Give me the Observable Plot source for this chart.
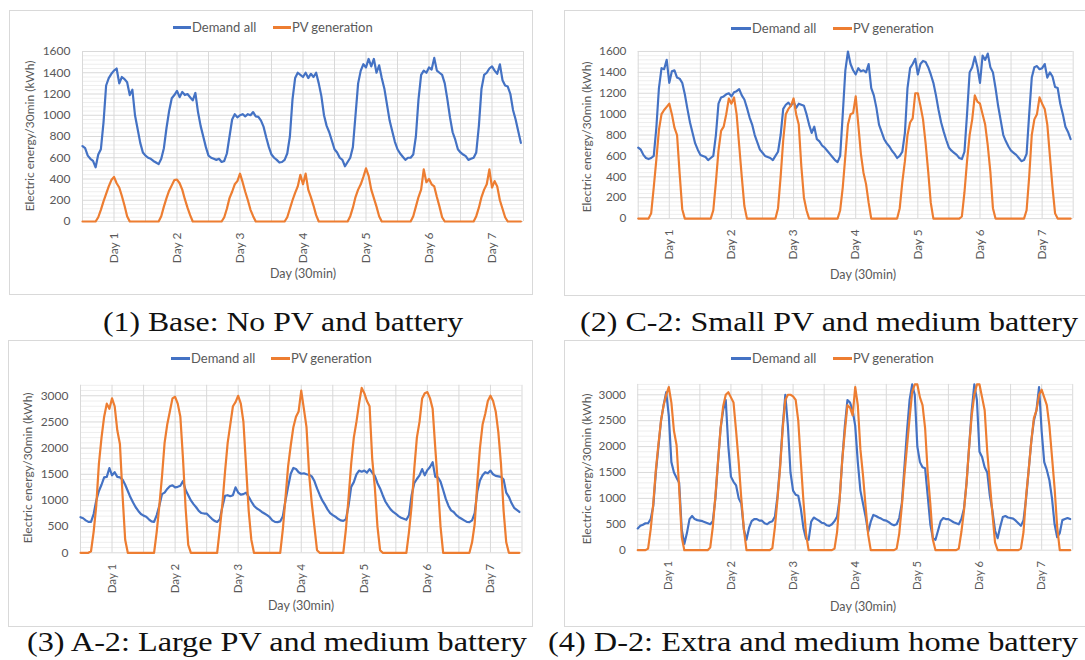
<!DOCTYPE html>
<html><head><meta charset="utf-8">
<script src="https://cdn.jsdelivr.net/npm/d3@7"></script>
<script src="https://cdn.jsdelivr.net/npm/@observablehq/plot@0.6"></script>
<style>
html,body{margin:0;padding:0;background:#fff;}
#root{position:relative;width:1085px;height:660px;overflow:hidden;background:#fff;font-family:Lato,"Open Sans",sans-serif;color:#595959;}
.box{position:absolute;border:1px solid #d9d9d9;box-sizing:border-box;background:#fff;}
.plotwrap{position:absolute;}
.lg{position:absolute;font-size:13px;white-space:nowrap;line-height:1;transform:translateY(-50%);}
.sw{position:absolute;height:2.5px;}
.t{position:absolute;white-space:nowrap;line-height:1;}
</style></head><body><div id="root"></div>
<script>
// ---------- shared axis values ----------
const dayLabels = ["Day 1","Day 2","Day 3","Day 4","Day 5","Day 6","Day 7"];
const dayTicks = [24, 72, 120, 168, 216, 264, 312];           // half-hour index at noon of each day
const gridHalfDays = [0,24,48,72,96,120,144,168,192,216,240,264,288,312,336];
const seriesNames = ["Demand all", "PV generation"];
const yTitle = "Electric energy/30min (kWh)";
const xTitle = "Day (30min)";
const captions = ["(1) Base: No PV and battery", "(2) C-2: Small PV and medium battery",
                  "(3) A-2: Large PV and medium battery", "(4) D-2: Extra and medium home battery"];

// ---------- hourly values (kWh per 30 min) ----------
// (1) Base
const baseDemand = [
 710,690,620,590,570,510,630,680,930,1280,1350,1390,1420,1440,1300,1360,1340,1310,1190,1240,1000,870,740,650,
 620,600,590,570,555,540,590,690,880,1040,1160,1190,1230,1170,1220,1190,1200,1170,1140,1210,1030,900,800,700,
 620,600,590,580,590,560,570,640,800,960,1010,980,1000,1010,990,1010,1000,1030,990,985,950,890,790,700,
 630,600,580,555,560,580,640,800,1150,1350,1400,1380,1360,1400,1350,1390,1360,1400,1300,1180,1000,900,840,760,
 680,650,600,580,520,560,600,700,1000,1300,1420,1480,1450,1530,1460,1530,1400,1470,1350,1250,1100,950,850,750,
 680,640,610,580,600,600,630,800,1150,1380,1420,1400,1450,1430,1540,1420,1400,1380,1300,1150,980,840,770,680,
 650,630,615,580,590,600,650,900,1250,1380,1400,1440,1460,1420,1390,1480,1330,1280,1270,1200,1050,960,850,740
];
const basePV = [
 0,0,0,0,0,0,40,110,190,260,330,390,420,360,320,240,150,50,0,0,0,0,0,0,
 0,0,0,0,0,0,50,140,220,290,340,390,395,360,300,210,130,60,0,0,0,0,0,0,
 0,0,0,0,0,0,40,120,220,280,350,380,450,370,280,200,110,50,0,0,0,0,0,0,
 0,0,0,0,0,0,40,120,200,270,330,440,350,450,300,230,150,60,0,0,0,0,0,0,
 0,0,0,0,0,0,50,130,230,300,350,420,500,430,300,220,140,50,0,0,0,0,0,0,
 0,0,0,0,0,0,50,140,230,300,490,370,400,350,330,230,140,40,0,0,0,0,0,0,
 0,0,0,0,0,0,50,130,230,300,350,490,320,380,330,200,120,40,0,0,0,0,0,0
];
// (2) C-2
const c2Demand = [
 680,660,610,580,570,580,600,870,1250,1440,1430,1520,1300,1410,1420,1350,1340,1300,1190,1050,920,820,720,660,
 610,600,590,560,580,600,800,1100,1160,1170,1190,1200,1170,1210,1220,1240,1180,1140,1060,970,900,800,730,660,
 630,600,590,580,560,600,640,800,1050,1090,1110,1080,1120,1060,1100,1090,1080,1000,900,820,880,760,740,700,
 680,650,620,590,560,540,600,1000,1420,1600,1480,1420,1380,1440,1410,1420,1400,1480,1250,1180,1060,900,830,760,
 720,690,650,620,580,600,640,820,1250,1440,1480,1530,1380,1480,1510,1500,1450,1380,1300,1180,1040,920,830,750,
 680,650,630,610,580,570,640,1000,1400,1450,1550,1450,1300,1560,1520,1580,1450,1400,1250,1080,940,800,740,690,
 650,630,610,580,550,560,620,1000,1350,1450,1460,1430,1440,1480,1350,1400,1360,1260,1250,1100,1000,880,830,760
];
const c2PV = [
 0,0,0,0,0,50,300,565,850,1000,1040,1070,1100,1000,870,800,430,90,0,0,0,0,0,0,
 0,0,0,0,0,80,350,650,840,880,1000,1150,1100,1160,1000,700,400,120,0,0,0,0,0,0,
 0,0,0,0,0,0,100,400,750,1000,1050,1080,1150,1000,900,500,200,80,0,0,0,0,0,0,
 0,0,0,0,0,0,80,300,600,900,1000,1010,1170,900,620,440,330,150,0,0,0,0,0,0,
 0,0,0,0,0,100,350,550,800,920,960,1200,1200,1080,950,720,450,150,0,0,0,0,0,0,
 0,0,0,0,0,20,250,550,800,950,1180,1120,1100,1000,900,700,450,100,0,0,0,0,0,0,
 0,0,0,0,0,0,80,400,800,950,1000,1160,1100,1050,900,600,300,50,0,0,0,0,0,0
];
// (3) A-2
const a2Demand = [
 680,660,620,590,590,740,1000,1180,1300,1440,1450,1620,1480,1540,1450,1440,1400,1300,1180,1060,960,870,800,740,
 710,690,640,600,590,720,900,1120,1150,1220,1270,1290,1250,1260,1280,1370,1200,1100,1000,930,870,800,760,750,
 750,700,650,610,590,640,880,1090,1100,1080,1100,1250,1150,1110,1120,1150,1070,980,900,850,820,780,750,720,
 680,620,590,586,600,700,1000,1260,1510,1620,1600,1540,1510,1520,1500,1490,1460,1370,1230,1110,1000,920,830,760,
 720,690,650,620,610,640,900,1260,1350,1500,1570,1550,1570,1530,1600,1530,1470,1330,1230,1100,980,900,830,780,
 745,700,670,650,630,720,1100,1330,1410,1480,1600,1480,1580,1640,1730,1450,1440,1360,1200,1030,900,810,780,720,
 680,650,620,590,586,620,760,1170,1380,1480,1540,1520,1570,1500,1470,1460,1450,1400,1150,1070,950,860,820,780
];
const a2PV = [
 0,0,0,0,30,400,900,1700,2200,2600,2850,2750,2950,2800,2340,2080,1100,250,0,0,0,0,0,0,
 0,0,0,0,0,400,900,1450,2100,2450,2700,2950,2980,2850,2600,1800,850,150,0,0,0,0,0,0,
 0,0,0,0,0,450,940,1550,2100,2450,2800,2880,3000,2850,2500,1650,800,250,0,0,0,0,0,0,
 0,0,0,0,0,450,1050,1650,2050,2400,2600,2700,3100,2750,2400,1500,950,500,50,0,0,0,0,0,
 0,0,0,0,0,450,1050,1700,2200,2500,2850,3150,3050,2900,2800,1800,1250,500,50,0,0,0,0,0,
 0,0,0,0,0,400,900,1600,2200,2500,2950,3050,3070,2950,2750,2000,1300,500,0,0,0,0,0,0,
 0,0,0,0,0,200,550,1350,2000,2450,2650,2900,3000,2900,2700,2300,1700,800,200,0,0,0,0,0
];
// (4) D-2
const d2Demand = [
 420,470,490,520,520,600,850,1500,2000,2500,2800,3050,2600,1700,1500,1400,1300,400,120,330,600,660,600,580,
 570,560,540,520,500,560,1000,1700,2350,2700,2900,2000,1420,1320,1250,1000,900,400,200,430,560,600,600,570,
 570,520,500,540,560,650,1050,1650,2400,3000,2400,1500,1150,1070,1050,800,430,220,200,550,630,600,570,530,
 520,480,470,500,560,650,1000,1750,2400,2900,2850,2700,2400,1700,1150,900,650,350,550,680,660,630,610,580,
 570,540,500,480,500,620,900,1600,2300,2900,3200,3000,2000,1700,1600,1580,1050,500,230,200,380,560,620,600,
 600,570,540,520,500,600,800,1300,2000,2700,3200,2900,1900,1800,1600,1500,1050,760,380,230,450,640,660,630,
 620,610,570,520,470,580,1000,1550,2100,2500,2700,3150,2300,1700,1550,1350,1000,500,250,330,580,600,620,600
];
const d2PV = [
 0,0,0,0,30,400,900,1550,2050,2500,2800,3000,3150,2850,2300,2030,1200,250,0,0,0,0,0,0,
 0,0,0,0,50,450,1050,1700,2350,2780,3000,3050,2950,2850,2300,1700,1000,400,0,0,0,0,0,0,
 0,0,0,0,40,450,1000,1600,2350,2900,3000,3000,2970,2900,2500,1700,950,320,0,0,0,0,0,0,
 0,0,0,0,30,350,1000,1750,2300,2800,2750,2600,3150,2800,1950,1450,850,300,0,0,0,0,0,0,
 0,0,0,0,30,320,850,1450,2000,2550,3050,3200,3200,2950,2800,2350,1500,900,200,0,0,0,0,0,
 0,0,0,0,30,350,760,1300,2000,2600,3000,3200,3200,2950,2700,1900,1300,700,150,0,0,0,0,0,
 0,0,0,0,30,350,1050,1550,2100,2550,2700,3000,3100,2950,2800,2400,1800,1200,450,0,0,0,0,0
];

// ---------- layout (page pixels) ----------
const panels = [
  {demand: baseDemand, pv: basePV, ymax: 1600, major: 200, minor: 40, cap: captions[0],
   box: {l: 9, t: 10, w: 524, h: 285}, plot: {x0: 82, x1: 523, y0: 51, y1: 221},
   lg: {y: 27, s1: 173, t1: 192, s2: 273, t2: 292}, xt: {x: 303, y: 274}, yt: {x: 30, y: 136},
   capPos: {x: 283, y: 331, w: 360}, tickFont: 12, dayFont: 12},
  {demand: c2Demand, pv: c2PV, ymax: 1600, major: 200, minor: 40, cap: captions[1],
   box: {l: 564, t: 10, w: 530, h: 286}, plot: {x0: 639, x1: 1081.5, y0: 51.7, y1: 221.7},
   lg: {y: 28, s1: 731, t1: 752, s2: 833, t2: 853}, xt: {x: 863, y: 275}, yt: {x: 587, y: 137},
   capPos: {x: 829, y: 331, w: 498}, tickFont: 12, dayFont: 12},
  {demand: a2Demand, pv: a2PV, ymax: 3200, major: 500, minor: 100, cap: captions[2],
   box: {l: 8, t: 340, w: 525, h: 287}, plot: {x0: 80, x1: 521.5, y0: 384.8, y1: 552.3},
   lg: {y: 358, s1: 171, t1: 191, s2: 271, t2: 291}, xt: {x: 301, y: 606}, yt: {x: 28, y: 468},
   capPos: {x: 277, y: 651, w: 500}, tickFont: 12, dayFont: 11.5},
  {demand: d2Demand, pv: d2PV, ymax: 3200, major: 500, minor: 100, cap: captions[3],
   box: {l: 564, t: 340, w: 530, h: 287}, plot: {x0: 638.5, x1: 1081, y0: 384.7, y1: 553.3},
   lg: {y: 358, s1: 731, t1: 752, s2: 833, t2: 853}, xt: {x: 863, y: 607}, yt: {x: 587, y: 469},
   capPos: {x: 813, y: 651, w: 530}, tickFont: 12, dayFont: 11.5}
];
const colors = ["#4472C4", "#ED7D31"];

const root = document.getElementById("root");
function el(tag, cls, css, text) {
  const e = document.createElement(tag);
  if (cls) e.className = cls;
  Object.assign(e.style, css || {});
  if (text != null) e.textContent = text;
  root.appendChild(e);
  return e;
}

for (const p of panels) {
  el("div", "box", {left: p.box.l + "px", top: p.box.t + "px", width: p.box.w + "px", height: p.box.h + "px"});
  const mL = p.plot.x0 - p.box.l, mR = p.box.l + p.box.w - p.plot.x1;
  const mT = p.plot.y0 - p.box.t, mB = p.box.t + p.box.h - p.plot.y1;
  const majors = d3.range(0, p.ymax + 1, p.major);
  const minors = d3.range(0, p.ymax + 1, p.minor).filter(v => v % p.major !== 0);
  const chart = Plot.plot({
    width: p.box.w, height: p.box.h,
    marginLeft: mL, marginRight: mR, marginTop: mT, marginBottom: mB,
    x: {domain: [0, 336], axis: null},
    y: {domain: [0, p.ymax], axis: null},
    style: {background: "transparent", fontFamily: "Lato, 'Open Sans', sans-serif", color: "#595959", overflow: "visible"},
    marks: [
      Plot.gridY(minors, {stroke: "#eeeeee", strokeOpacity: 1}),
      Plot.gridY(majors, {stroke: "#d9d9d9", strokeOpacity: 1}),
      Plot.gridX(gridHalfDays, {stroke: "#d9d9d9", strokeOpacity: 1}),
      Plot.axisY(majors, {tickSize: 0, tickPadding: 12, fontSize: p.tickFont, fill: "#595959", tickFormat: d => String(d)}),
      Plot.axisX(dayTicks, {tickSize: 0, tickPadding: 11, tickRotate: -90, fontSize: p.dayFont, fill: "#595959",
        tickFormat: d => dayLabels[dayTicks.indexOf(d)]}),
      Plot.line(p.demand, {x: (d, i) => i * 2, y: d => d, stroke: colors[0], strokeWidth: 2.2}),
      Plot.line(p.pv, {x: (d, i) => i * 2, y: d => d, stroke: colors[1], strokeWidth: 2.2})
    ]
  });
  const wrap = el("div", "plotwrap", {left: p.box.l + "px", top: p.box.t + "px"});
  wrap.appendChild(chart);
  // legend
  el("div", "sw", {left: p.lg.s1 + "px", top: (p.lg.y - 1) + "px", width: (p.lg.t1 - p.lg.s1 - 1) + "px", background: colors[0]});
  el("div", "lg", {left: p.lg.t1 + "px", top: p.lg.y + "px"}, seriesNames[0]);
  el("div", "sw", {left: p.lg.s2 + "px", top: (p.lg.y - 1) + "px", width: (p.lg.t2 - p.lg.s2 - 1) + "px", background: colors[1]});
  el("div", "lg", {left: p.lg.t2 + "px", top: p.lg.y + "px"}, seriesNames[1]);
  // axis titles
  el("div", "t", {left: p.xt.x + "px", top: p.xt.y + "px", fontSize: "12.5px", transform: "translate(-50%,-50%)"}, xTitle);
  el("div", "t", {left: p.yt.x + "px", top: p.yt.y + "px", fontSize: "12px", transform: "translate(-50%,-50%) rotate(-90deg)"}, yTitle);
}

// captions (serif, below each panel)
const ns = "http://www.w3.org/2000/svg";
const capSvg = document.createElementNS(ns, "svg");
capSvg.setAttribute("width", 1085); capSvg.setAttribute("height", 660);
Object.assign(capSvg.style, {position: "absolute", left: "0px", top: "0px", pointerEvents: "none"});
for (const p of panels) {
  const t = document.createElementNS(ns, "text");
  t.setAttribute("x", p.capPos.x); t.setAttribute("y", p.capPos.y);
  t.setAttribute("text-anchor", "middle");
  t.setAttribute("font-family", "'Liberation Serif', 'DejaVu Serif', serif");
  t.setAttribute("font-size", 28);
  t.setAttribute("fill", "#111");
  t.setAttribute("textLength", p.capPos.w);
  t.setAttribute("lengthAdjust", "spacingAndGlyphs");
  t.textContent = p.cap;
  capSvg.appendChild(t);
}
root.appendChild(capSvg);
</script></body></html>
